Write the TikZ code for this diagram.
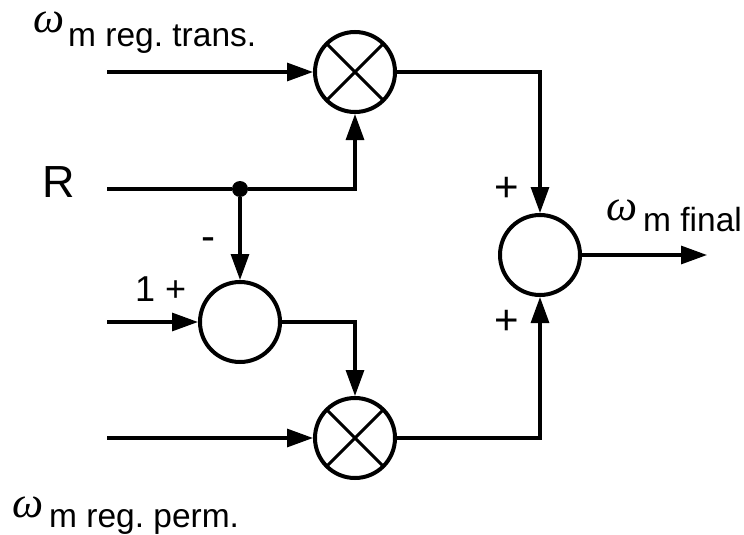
\documentclass[tikz,border=0pt]{standalone}
\usepackage{fontspec}
\setmainfont{Liberation Sans}
\newfontfamily\grk{Liberation Serif}
\usetikzlibrary{arrows.meta}
\frenchspacing
\tikzset{
  wire/.style={line width=3.1pt},
  arr/.style={wire, -{Triangle[length=26pt,width=18pt]}},
  blk/.style={circle, draw, line width=4pt, minimum size=80pt, inner sep=0pt},
  mult/.style={blk, path picture={
      \draw[line width=3pt] (path picture bounding box.north west) -- (path picture bounding box.south east);
      \draw[line width=3pt] (path picture bounding box.north east) -- (path picture bounding box.south west);}},
  lbl/.style={font=\fontsize{33.5}{36}\selectfont, inner sep=0pt, anchor=base west},
  om/.style={font=\fontsize{44}{46}\selectfont\grk\itshape, inner sep=0pt, anchor=base west},
  sgn/.style={font=\fontsize{42}{44}\selectfont, inner sep=0pt},
  dot/.style={circle, fill, inner sep=0pt, minimum size=16pt}
}
\begin{document}
\begin{tikzpicture}[x=1pt,y=-1pt]
\useasboundingbox (0,0) rectangle (744,535);
\node[mult] (T) at (355,72) {};
\node[mult] (B) at (355,438) {};
\node[blk] (M) at (240,322) {};
\node[blk] (S) at (540,255) {};
\node[dot] (J) at (240,189) {};
\coordinate (inT) at (107,72);
\coordinate (inR) at (107,189);
\coordinate (inM) at (107,322);
\coordinate (inB) at (107,438);
\coordinate (out) at (707,255);
\draw[arr] (inT) -- (T);
\draw[wire] (inR) -- (J);
\draw[arr] (J) -| (T);
\draw[arr] (J) -- (M);
\draw[arr] (inM) -- (M);
\draw[arr] (M) -| (B);
\draw[arr] (inB) -- (B);
\draw[arr] (T) -| (S);
\draw[arr] (B) -| (S);
\draw[arr] (S) -- (out);
\node[om] (wt) at (33,33) {ω};
\node[lbl] (lt) at (68,47) {m reg. trans.};
\node[om] (wb) at (12,517) {ω};
\node[lbl] (lb) at (49,527) {m reg. perm.};
\node[om] (wf) at (606,220) {ω};
\node[lbl] (lf) at (643,231) {m final};
\node[font=\fontsize{45}{48}\selectfont, inner sep=0pt, anchor=base west] (lR) at (42,197) {R};
\node[font=\fontsize{36}{38}\selectfont, inner sep=0pt, anchor=base west] (l1) at (135,301) {1 +};
\node[sgn] (lm) at (208,244) {-};
\node[sgn] (lp1) at (507,189) {+};
\node[sgn] (lp2) at (507,322) {+};
\end{tikzpicture}
\end{document}
